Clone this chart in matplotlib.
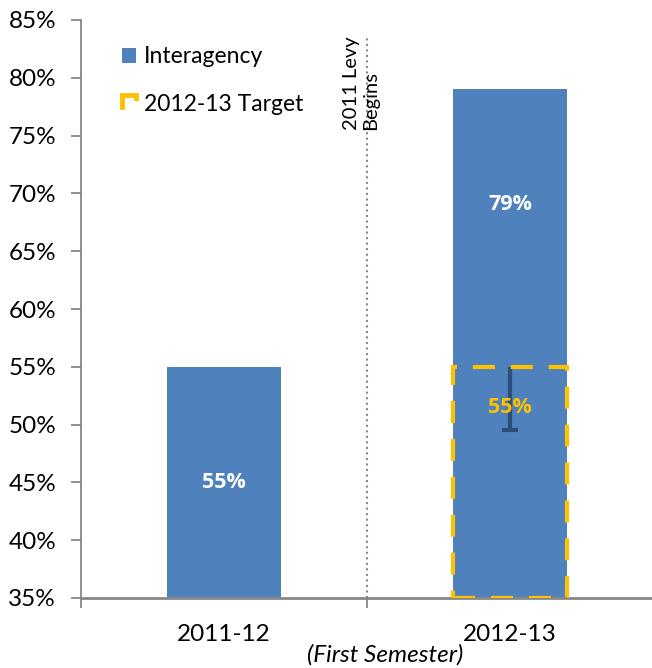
import numpy as np
import matplotlib
matplotlib.use("Agg")
import matplotlib.pyplot as plt
from matplotlib.patches import Patch

plt.rcParams['font.family'] = ['Lato', 'DejaVu Sans']

# dati
years = ['2011-12', '2012-13']
interagency = [55, 79]
target_year = 1
target = 55
target_low = 49.5
label_pos = [45, 69]
target_label_pos = 51.5
y_ticks = np.arange(35, 86, 5)

blue = '#4F81BD'
gold = '#FFC000'
navy = '#2D4E77'
grey = '#878787'

fig = plt.figure(figsize=(6.52, 6.68), dpi=100)
ax = fig.add_axes([81/652, 70/668, 572/652, 578/668])

x = np.arange(len(years))
base = 35
ax.bar(x, np.array(interagency) - base, bottom=base, width=0.40, color=blue, zorder=2)

# obiettivo 2012-13 tratteggiato
ax.bar(target_year, target - base, bottom=base, width=0.40, fill=False,
       edgecolor=gold, linewidth=3, linestyle=(0, (5.3, 3.8)), zorder=4)

# barra di errore solo verso il basso
eb = ax.errorbar(target_year, target, yerr=[[target - target_low], [0]], fmt='none',
                 ecolor=navy, elinewidth=3, capsize=6, capthick=3, zorder=3)
eb[1][1].set_visible(False)

bold = dict(family=['Open Sans', 'DejaVu Sans'], fontsize=15.5, fontweight='bold',
            ha='center', va='center', zorder=5)
for xi, v, p in zip(x, interagency, label_pos):
    ax.text(xi, p, f'{v}%', color='white', **bold)
ax.text(target_year, target_label_pos, f'{target}%', color=gold, **bold)

# linea inizio prelievo
ax.axvline(0.5, ymin=0, ymax=(83.7 - 35) / 50, color=grey, linestyle=':', linewidth=1.5, zorder=1)
ax.text(0.479, 75.5, '2011 Levy\nBegins', rotation=90, ha='center', va='bottom',
        fontsize=14.5, multialignment='left', linespacing=1.2, zorder=5)

ax.set_ylim(35, 85)
ax.set_xlim(-0.5, 1.5)
ax.set_yticks(y_ticks)
ax.set_yticklabels([f'{t}%' for t in y_ticks], fontsize=17.5)
ax.set_xticks([-0.5, 0.5, 1.5])
ax.set_xticklabels([])
ax.set_xticks(x, minor=True)
ax.set_xticklabels(years, minor=True, fontsize=17.5)
ax.tick_params(axis='x', which='minor', length=0, pad=19)
ax.tick_params(axis='x', which='major', length=7, width=1.3, color=grey)
ax.tick_params(axis='y', length=7, width=1.3, color=grey, pad=11)

for s in ['top', 'right']:
    ax.spines[s].set_visible(False)
ax.spines['left'].set_color(grey)
ax.spines['left'].set_linewidth(1.3)
ax.spines['bottom'].set_color(grey)
ax.spines['bottom'].set_linewidth(2)

# legenda: il simbolo dell'obiettivo mostra solo l'angolo del riquadro tratteggiato
handles = [Patch(facecolor=blue, edgecolor='none'),
           Patch(facecolor='none', edgecolor=gold, linewidth=3.5,
                 linestyle=(7.0, (7.0, 4.8)))]
ax.legend(handles, ['Interagency', '2012-13 Target'], loc='upper left',
          bbox_to_anchor=(0.035, 0.99), frameon=False, fontsize=16.5,
          handlelength=0.62, handleheight=0.62, handletextpad=0.35, labelspacing=1.15)

fig.text(385/652, 1 - 655/668, '(First Semester)', fontsize=17.5, style='italic',
         ha='center', va='center')

fig.savefig('out.png', dpi=100)
